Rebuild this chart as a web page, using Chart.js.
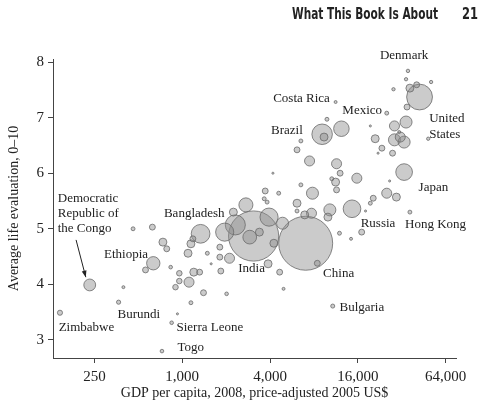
<!DOCTYPE html>
<html>
<head>
<meta charset="utf-8">
<script src="https://cdn.jsdelivr.net/npm/chart.js@4.4.0/dist/chart.umd.min.js"></script>
<style>
  html, body { margin: 0; padding: 0; background: #fff; }
  #wrap { width: 484px; height: 412px; }
</style>
</head>
<body>
<div id="wrap"><canvas id="myChart" width="484" height="412"></canvas></div>
<script>
// --- data: GDP per capita (2005 US$), life evaluation (0-10), population (millions)
let gdp = [145, 232, 395, 366, 927, 846, 726, 460, 624, 737, 783, 633, 560, 833, 955, 955, 899, 1113, 1200, 1316,
  1147, 1399, 2015, 1839, 1811, 1811, 2110, 1579, 1486, 1096, 1147, 1183, 1336, 1955, 2312, 2242, 2733, 2904, 3382, 3087,
  3940, 4876, 4251, 3880, 4658, 4953, 7027, 8440, 3708, 3650, 3820, 4588, 4188, 6127, 6127, 6513, 7820, 6920, 7700, 10290,
  9980, 11440, 11270, 12100, 15760, 7470, 6513, 6127, 9110, 9390, 12350, 9830, 11270, 10610, 11440, 19500, 21060, 23410, 22040, 27700,
  25270, 34280, 28550, 28550, 31280, 33250, 48650, 42430, 35330, 34280, 50920, 28110, 36430, 40530, 34800, 30800, 33250, 26450, 25270, 29430,
  20420, 19500, 14600, 18080, 36430, 17010, 11980, 14380, 10770]
let life = [3.49, 3.99, 3.95, 3.68, 3.47, 3.31, 2.80, 5.00, 5.03, 4.76, 4.64, 4.38, 4.26, 4.31, 4.20, 4.06, 3.95, 4.04, 4.22, 4.22,
  3.67, 3.85, 3.83, 4.24, 4.49, 4.67, 4.47, 4.37, 4.56, 4.56, 4.73, 4.82, 4.91, 4.94, 5.07, 5.30, 5.43, 4.85, 4.94, 4.87,
  5.21, 5.10, 4.74, 4.37, 4.22, 3.92, 4.74, 4.38, 5.68, 5.54, 5.48, 5.64, 6.00, 5.46, 5.32, 5.79, 5.64, 5.25, 5.28, 5.34,
  5.21, 5.70, 5.84, 6.00, 5.91, 6.22, 6.58, 6.42, 6.70, 6.65, 6.80, 6.97, 7.28, 5.90, 6.17, 6.85, 6.62, 6.45, 6.36, 6.36,
  7.08, 6.92, 6.85, 6.60, 6.65, 6.56, 6.62, 7.37, 7.84, 7.69, 7.64, 7.51, 7.53, 7.59, 7.19, 6.74, 6.02, 5.86, 5.64, 5.57,
  5.55, 5.46, 5.36, 5.32, 5.30, 4.94, 4.92, 4.82, 3.61]
let pop = [12, 64, 4, 8, 2, 6, 6, 7, 16, 29, 16, 81, 16, 6, 14, 14, 14, 46, 29, 16,
  7, 16, 6, 16, 16, 16, 46, 2, 7, 29, 29, 16, 160, 150, 184, 29, 90, 86, 29, 1150,
  150, 66, 29, 29, 16, 4, 1330, 16, 16, 7, 7, 7, 2, 29, 7, 7, 66, 29, 46, 66,
  29, 16, 29, 16, 46, 46, 7, 16, 192, 29, 110, 7, 4, 7, 46, 2, 29, 16, 2, 16,
  7, 66, 46, 66, 46, 66, 5, 304, 5.5, 5, 5, 5, 29, 16, 16, 4, 127, 2, 46, 29,
  16, 7, 142, 2, 7, 16, 7, 4, 7.5]

let xTicks = [250, 1000, 4000, 16000, 64000]
let yTicks = [3, 4, 5, 6, 7, 8]

// country labels: text, anchor gdp, anchor life, alignment
let labelText = ["Denmark", "Costa Rica", "Mexico", "United", "States", "Brazil", "Japan", "Russia", "Hong Kong",
  "China", "Bulgaria", "India", "Bangladesh", "Ethiopia", "Democratic", "Republic of", "the Congo", "Zimbabwe",
  "Burundi", "Sierra Leone", "Togo"]
let labelGdp = [33250, 10290, 12540, 49400, 49400, 6713, 41780, 16750, 33750,
  9250, 11980, 2420, 749, 291, 140, 140, 140, 142,
  360, 913, 927]
let labelLife = [8.108, 7.35, 7.12, 6.975, 6.687, 6.76, 5.75, 5.10, 5.07,
  4.19, 3.59, 4.28, 5.27, 4.53, 5.55, 5.27, 5.0, 3.23,
  3.45, 3.22, 2.86]
let labelAlign = ["center", "right", "left", "left", "left", "right", "left", "left", "left",
  "left", "left", "left", "left", "left", "left", "left", "left", "left",
  "left", "left", "left"]

const serif = "'Liberation Serif', 'DejaVu Serif', serif"
const ink = "#222"

// biggest bubbles first so the small ones sit on top
let order = gdp.map((v, i) => i).sort((a, b) => pop[b] - pop[a])
let points = order.map(i => ({ x: gdp[i], y: life[i], r: 0.74 * Math.sqrt(pop[i]) }))

// header + labels + the Congo arrow
const extras = {
  id: 'extras',
  afterDatasetsDraw(chart) {
    const c = chart.ctx
    const xs = chart.scales.x, ys = chart.scales.y
    c.save()
    c.fillStyle = ink
    c.font = "13px " + serif
    c.textBaseline = "middle"
    for (let i = 0; i < labelText.length; i++) {
      c.textAlign = labelAlign[i]
      c.fillText(labelText[i], xs.getPixelForValue(labelGdp[i]), ys.getPixelForValue(labelLife[i]))
    }
    // arrow
    let x1 = xs.getPixelForValue(187), y1 = ys.getPixelForValue(4.80)
    let x2 = xs.getPixelForValue(218), y2 = ys.getPixelForValue(4.13)
    c.strokeStyle = ink
    c.lineWidth = 1
    c.beginPath()
    c.moveTo(x1, y1)
    c.lineTo(x2, y2)
    c.stroke()
    let a = Math.atan2(y2 - y1, x2 - x1)
    c.beginPath()
    c.moveTo(x2, y2)
    c.lineTo(x2 - 7 * Math.cos(a - 0.35), y2 - 7 * Math.sin(a - 0.35))
    c.lineTo(x2 - 7 * Math.cos(a + 0.35), y2 - 7 * Math.sin(a + 0.35))
    c.closePath()
    c.fill()
    // running head
    c.font = "bold 16px 'Liberation Sans Narrow', 'DejaVu Sans Condensed', sans-serif"
    c.textBaseline = "alphabetic"
    c.textAlign = "right"
    c.fillText("What This Book Is About", 438, 19, 146)
    c.fillText("21", 478, 19, 16)
    c.restore()
  }
}

const lineCanvas = document.getElementById('myChart')

const stackedBubble = new Chart(lineCanvas, {
  type: 'bubble',
  data: {
    datasets: [{
      data: points,
      backgroundColor: 'rgba(140,140,140,0.45)',
      borderColor: '#6a6a6a',
      borderWidth: 0.8,
      clip: false
    }]
  },
  options: {
    responsive: false,
    animation: false,
    events: [],
    layout: { padding: { left: 2, right: 13, top: 59, bottom: 6 } },
    plugins: { legend: { display: false }, tooltip: { enabled: false } },
    scales: {
      x: {
        type: 'logarithmic',
        min: 129.9,
        max: 75700,
        afterBuildTicks: s => { s.ticks = xTicks.map(v => ({ value: v })) },
        afterFit: s => { s.height = 48 },
        ticks: {
          callback: v => v.toLocaleString('en-US'),
          font: { family: serif, size: 15 },
          color: ink,
          padding: 5,
          maxRotation: 0,
          autoSkip: false
        },
        grid: { drawOnChartArea: false, tickLength: 5, color: '#444' },
        border: { color: '#444', width: 1 },
        title: {
          display: true,
          text: 'GDP per capita, 2008, price-adjusted 2005 US$',
          font: { family: serif, size: 14 },
          color: ink,
          padding: { top: 0, bottom: 4 }
        }
      },
      y: {
        min: 2.676,
        max: 8.054,
        afterBuildTicks: s => { s.ticks = yTicks.map(v => ({ value: v })) },
        afterFit: s => { s.width = 51 },
        ticks: {
          font: { family: serif, size: 15 },
          color: ink,
          padding: 4
        },
        grid: { drawOnChartArea: false, tickLength: 5, color: '#444' },
        border: { color: '#444', width: 1 },
        title: {
          display: true,
          text: 'Average life evaluation, 0–10',
          font: { family: serif, size: 14 },
          color: ink,
          padding: { top: 4, bottom: 0 }
        }
      }
    }
  },
  plugins: [extras]
})
</script>
</body>
</html>
